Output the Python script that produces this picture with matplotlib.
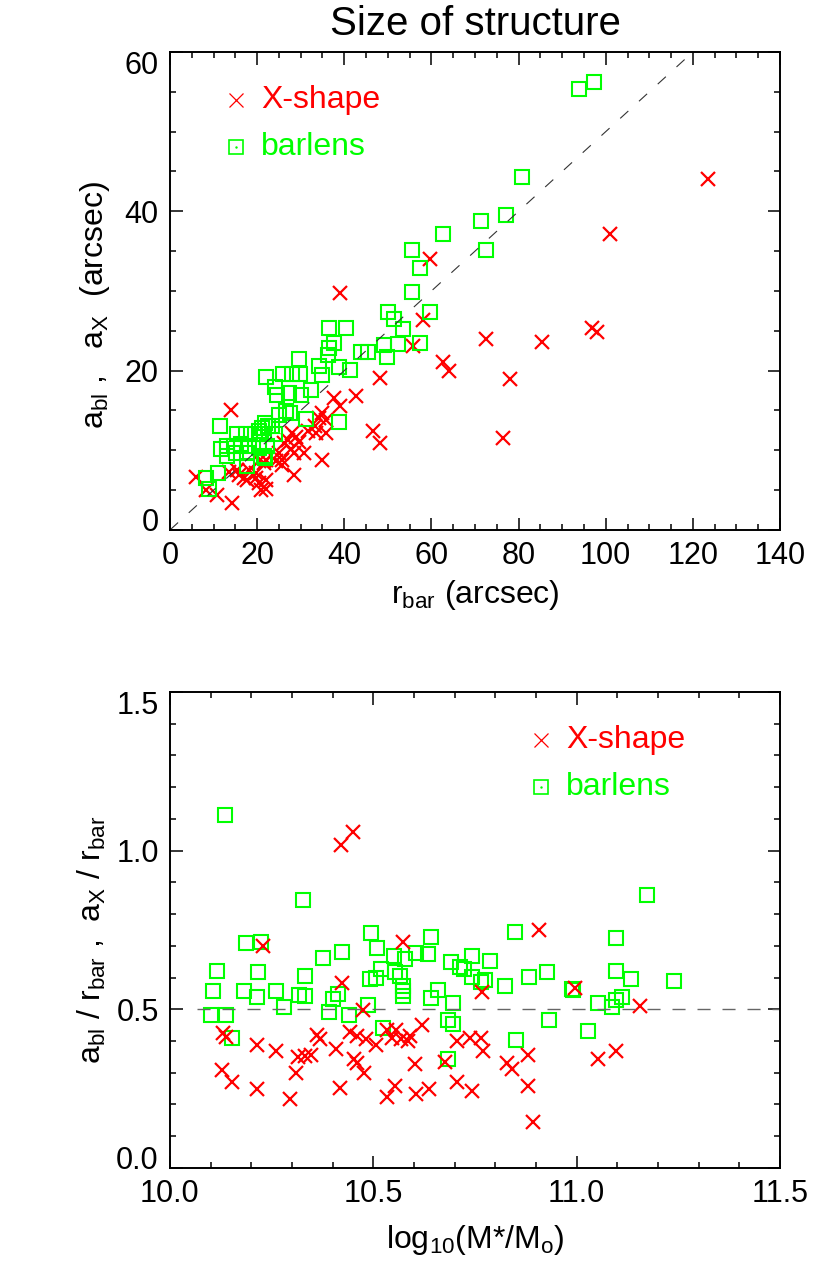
import matplotlib
matplotlib.use('Agg')
import matplotlib.pyplot as plt
import matplotlib.transforms as mtransforms
from matplotlib.ticker import MultipleLocator, FixedLocator

# --- top panel: size of structure vs bar radius (arcsec)
xshape_rbar = [123.4, 101.0, 59.6, 39.0, 58.0, 55.7, 72.5, 85.3, 96.8, 98.1,
               62.6, 64.0, 48.2, 78.0, 42.7, 37.7, 39.0, 35.0, 35.8, 35.8,
               46.5, 48.1, 76.4,
               13.9, 5.9, 14.3, 10.9, 8.2, 34.2, 33.2, 31.6, 33.5,
               28.1, 28.9, 27.0, 26.2, 29.6, 27.7, 28.5, 30.8,
               25.0, 25.8, 24.3, 25.8, 35.0, 28.5, 22.0, 21.6, 20.4,
               19.7, 18.1, 17.0, 17.7, 19.7, 22.0, 20.4, 22.0, 20.8,
               15.4, 15.8, 13.5]
xshape_size = [44.0, 37.2, 34.0, 29.7, 26.3, 23.1, 24.0, 23.6, 25.4, 24.9,
               21.1, 20.0, 19.1, 18.9, 16.8, 16.6, 15.5, 14.7, 13.8, 12.2,
               12.4, 10.9, 11.5,
               15.1, 6.7, 3.4, 4.4, 5.0, 14.0, 13.0, 12.4, 12.2,
               12.2, 11.7, 11.3, 10.9, 11.1, 10.1, 9.6, 9.6,
               9.6, 8.8, 8.6, 8.2, 8.8, 6.9, 8.8, 8.4, 8.6,
               7.1, 7.5, 6.5, 6.3, 6.5, 6.3, 5.9, 5.2, 5.0,
               7.5, 6.9, 7.3]

barlens_rbar = [93.9, 97.2, 80.7, 71.3, 77.1, 62.6, 55.5, 57.3, 72.5, 55.6,
                59.7, 50.0, 51.3, 53.4, 36.4, 40.5, 37.7, 36.5, 36.2, 43.8,
                45.4, 49.2, 52.3, 49.8, 57.4, 38.9, 41.3, 34.8, 38.7,
                29.6, 22.0, 26.0, 28.0, 29.9, 34.2, 24.1, 24.6, 27.3, 30.0,
                32.3, 26.6, 25.0, 27.5, 31.2, 11.5, 21.8, 22.4, 21.2, 20.4,
                23.5, 15.4, 17.5, 19.5, 21.5, 24.0, 11.6, 13.1, 14.7, 16.2,
                18.1, 20.4, 22.3, 13.1, 15.1, 17.7, 21.6, 17.7, 21.8, 11.1,
                8.2, 8.9]
barlens_size = [55.3, 56.2, 44.3, 38.8, 39.5, 37.2, 35.2, 32.9, 35.2, 29.9,
                27.4, 27.3, 26.5, 25.2, 25.4, 25.4, 23.5, 22.9, 22.0, 22.3,
                22.3, 23.2, 23.4, 21.7, 23.5, 20.4, 20.1, 19.4, 13.5,
                21.5, 19.2, 19.6, 19.6, 19.6, 20.6, 18.0, 17.0, 17.2, 17.0,
                17.6, 14.9, 14.4, 14.7, 13.9, 13.1, 13.4, 13.0, 12.8, 12.4,
                13.0, 12.1, 12.1, 12.1, 12.1, 12.1, 10.2, 10.5, 10.5, 10.8,
                10.6, 10.3, 10.6, 9.3, 9.6, 9.6, 9.3, 8.0, 9.0, 7.1,
                6.5, 5.2]

# --- bottom panel: relative size vs stellar mass
xshape_mass = [10.420, 10.449, 10.228, 10.574, 10.422, 10.475, 10.131, 10.139, 10.215, 10.261,
               10.315, 10.332, 10.348, 10.361, 10.370, 10.408, 10.442, 10.459, 10.483, 10.506,
               10.533, 10.557, 10.545, 10.568, 10.586, 10.590, 10.619, 10.453, 10.459, 10.478,
               10.311, 10.127, 10.152, 10.213, 10.295, 10.418, 10.533, 10.553, 10.605, 10.637,
               10.602, 10.676, 10.705, 10.706, 10.908, 10.996, 10.767, 11.156, 10.738, 10.766,
               10.771, 10.742, 10.830, 10.840, 10.881, 10.881, 10.893, 11.052, 11.098]
xshape_ratio = [1.018, 1.060, 0.698, 0.713, 0.582, 0.499, 0.425, 0.412, 0.388, 0.367,
                0.349, 0.353, 0.356, 0.419, 0.406, 0.374, 0.430, 0.415, 0.406, 0.388,
                0.436, 0.436, 0.410, 0.406, 0.399, 0.415, 0.451, 0.343, 0.330, 0.300,
                0.298, 0.309, 0.272, 0.248, 0.218, 0.251, 0.225, 0.259, 0.232, 0.250,
                0.327, 0.335, 0.400, 0.272, 0.750, 0.567, 0.553, 0.509, 0.408, 0.408,
                0.370, 0.241, 0.330, 0.311, 0.356, 0.259, 0.146, 0.344, 0.370]

barlens_mass = [10.135, 10.328, 10.187, 10.225, 10.115, 10.216, 10.105, 10.182, 10.215, 10.261,
                10.280, 10.318, 10.332, 10.332, 10.102, 10.139, 10.152, 10.377, 10.422, 10.392,
                10.401, 10.414, 10.440, 10.486, 10.494, 10.508, 10.492, 10.506, 10.518, 10.551,
                10.578, 10.553, 10.565, 10.574, 10.574, 10.574, 10.524, 10.606, 10.635, 10.642,
                10.642, 10.660, 10.691, 10.695, 10.683, 10.697, 10.684,
                10.713, 10.724, 10.742, 10.742, 10.766, 10.775, 10.787, 10.825, 10.848, 10.850,
                10.883, 10.926, 10.932, 10.988, 10.992, 11.029, 11.052, 11.086, 11.098, 11.111,
                11.098, 11.098, 11.133, 11.174, 11.239]
barlens_ratio = [1.111, 0.843, 0.708, 0.713, 0.621, 0.619, 0.558, 0.558, 0.538, 0.559,
                 0.507, 0.544, 0.541, 0.606, 0.482, 0.482, 0.411, 0.661, 0.680, 0.493,
                 0.533, 0.549, 0.482, 0.512, 0.740, 0.693, 0.596, 0.598, 0.626, 0.669,
                 0.658, 0.617, 0.606, 0.575, 0.559, 0.543, 0.442, 0.677, 0.675, 0.727,
                 0.537, 0.561, 0.650, 0.519, 0.466, 0.455, 0.344,
                 0.632, 0.628, 0.668, 0.603, 0.587, 0.593, 0.653, 0.572, 0.743, 0.404,
                 0.601, 0.616, 0.467, 0.563, 0.560, 0.433, 0.521, 0.508, 0.530, 0.539,
                 0.724, 0.622, 0.596, 0.861, 0.588]

slope = 0.5          # reference line a = 0.5 r_bar
ratio_ref = 0.5
ratio_line_start = 10.067

RED = '#ff0000'
GREEN = '#00ff00'

plt.rcParams['font.family'] = ['Liberation Sans', 'DejaVu Sans']
plt.rcParams['mathtext.fontset'] = 'custom'
plt.rcParams['mathtext.rm'] = 'Liberation Sans'
plt.rcParams['mathtext.it'] = 'Liberation Sans'
plt.rcParams['mathtext.default'] = 'regular'
plt.rcParams['lines.scale_dashes'] = False
plt.rcParams['font.size'] = 22


def style_axes(ax):
    for s in ax.spines.values():
        s.set_linewidth(1.4)
    ax.tick_params(which='both', direction='in', top=True, right=True, width=1.1)
    ax.tick_params(which='major', length=9, pad=8, labelsize=22)
    ax.tick_params(which='minor', length=4.5)


def pull_in_end_labels(fig, ax, dy=7.5):
    # IDL keeps the first and last y labels inside the axis range
    labels = ax.get_yticklabels()
    up = mtransforms.ScaledTranslation(0, dy / 72, fig.dpi_scale_trans)
    down = mtransforms.ScaledTranslation(0, -dy / 72, fig.dpi_scale_trans)
    labels[0].set_transform(labels[0].get_transform() + up)
    labels[-1].set_transform(labels[-1].get_transform() + down)


def legend(ax, x0, xt, y1, y2):
    ax.plot([x0], [y1], 'x', color=RED, ms=10.5, mew=0.9, transform=ax.transAxes, clip_on=False)
    ax.text(xt, y1, 'X-shape', color=RED, fontsize=23, va='center', transform=ax.transAxes)
    ax.plot([x0], [y2], 's', mfc='none', mec=GREEN, ms=9.5, mew=1.2, transform=ax.transAxes, clip_on=False)
    ax.plot([x0], [y2], '.', color=GREEN, ms=1.5, transform=ax.transAxes, clip_on=False)
    ax.text(xt, y2, 'barlens', color=GREEN, fontsize=23, va='center', transform=ax.transAxes)


fig = plt.figure(figsize=(8.3, 12.77), dpi=100)

# top panel
ax1 = fig.add_axes([0.2048, 0.585, 0.7350, 0.3743])
ax1.plot(xshape_rbar, xshape_size, 'x', color=RED, ms=10.5, mew=1.6, linestyle='none')
ax1.plot(barlens_rbar, barlens_size, 's', mfc='none', mec=GREEN, ms=10, mew=1.5, linestyle='none')
ax1.plot([0, 60 / slope], [0, 60], color='#333333', lw=0.8, dashes=(7.9, 10.4))
ax1.set_xlim(0, 140)
ax1.set_ylim(0, 60)
ax1.xaxis.set_major_locator(MultipleLocator(20))
ax1.xaxis.set_minor_locator(MultipleLocator(5))
ax1.yaxis.set_major_locator(FixedLocator([0, 20, 40, 60]))
ax1.yaxis.set_minor_locator(MultipleLocator(5))
style_axes(ax1)
ax1.set_title('Size of structure', fontsize=29, pad=12)
ax1.set_xlabel(r'r$_{\rm bar}$ (arcsec)', fontsize=23)
ax1.set_ylabel(r'a$_{\rm bl}$ ,   a$_{\rm X}$  (arcsec)', fontsize=23)
ax1.xaxis.set_label_coords(0.5, -0.10)
ax1.yaxis.set_label_coords(-0.095, 0.47)
legend(ax1, 0.1076, 0.149, 0.90, 0.801)
pull_in_end_labels(fig, ax1)

# bottom panel
ax2 = fig.add_axes([0.2047, 0.0854, 0.7350, 0.3727])
ax2.plot(barlens_mass, barlens_ratio, 's', mfc='none', mec=GREEN, ms=10, mew=1.5, linestyle='none')
ax2.plot(xshape_mass, xshape_ratio, 'x', color=RED, ms=10.5, mew=1.6, linestyle='none')
ax2.plot([ratio_line_start, 11.5], [ratio_ref, ratio_ref], color='#666666', lw=1.0, dashes=(9.4, 8.6))
ax2.set_xlim(10.0, 11.5)
ax2.set_ylim(0.0, 1.5)
ax2.xaxis.set_major_locator(FixedLocator([10.0, 10.5, 11.0, 11.5]))
ax2.xaxis.set_minor_locator(MultipleLocator(0.1))
ax2.yaxis.set_major_locator(FixedLocator([0.0, 0.5, 1.0, 1.5]))
ax2.yaxis.set_minor_locator(MultipleLocator(0.1))
ax2.xaxis.set_major_formatter(plt.FormatStrFormatter('%.1f'))
ax2.yaxis.set_major_formatter(plt.FormatStrFormatter('%.1f'))
style_axes(ax2)
ax2.set_xlabel(r'log$_{10}$(M*/M$_{\rm o}$)', fontsize=23)
ax2.set_ylabel(r'a$_{\rm bl}$ / r$_{\rm bar}$ ,  a$_{\rm X}$ / r$_{\rm bar}$', fontsize=23)
ax2.xaxis.set_label_coords(0.5, -0.116)
ax2.yaxis.set_label_coords(-0.102, 0.48)
legend(ax2, 0.609, 0.650, 0.899, 0.801)
pull_in_end_labels(fig, ax2)

fig.savefig('out.png', dpi=100)
